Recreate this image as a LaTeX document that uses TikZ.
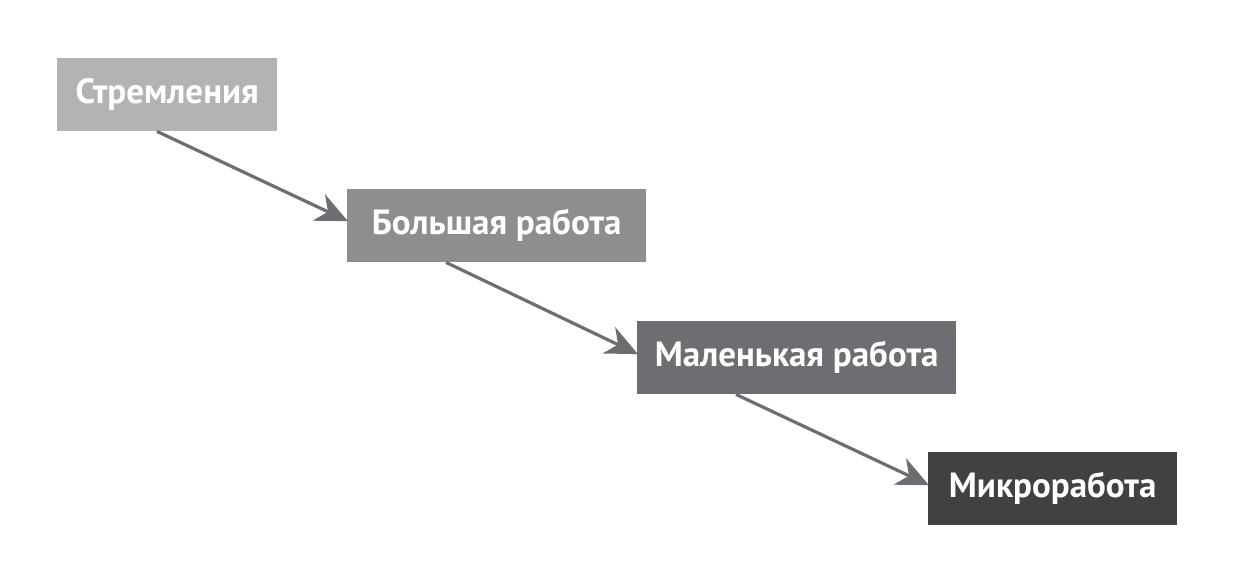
\documentclass[tikz,border=0pt]{standalone}
\usepackage{fontspec}
\setmainfont{PT Sans}
\usetikzlibrary{arrows.meta,calc}
\definecolor{c1}{HTML}{B3B3B5}
\definecolor{c2}{HTML}{8E8E91}
\definecolor{c3}{HTML}{6D6E71}
\definecolor{c4}{HTML}{414143}
\definecolor{arr}{HTML}{6D6E71}
\tikzset{
  box/.style={anchor=north west, minimum height=73pt, inner sep=0pt, text=white,
    font=\fontsize{35}{35}\selectfont\bfseries},
  link/.style={draw=arr, line width=3.2pt, -{Stealth[length=32pt,width=29pt,inset=10pt]}, shorten >=-1pt}
}
\begin{document}
\begin{tikzpicture}[x=1pt,y=-1pt]
\useasboundingbox (0,0) rectangle (1237,571);
\node[box, fill=c1, minimum width=220pt] (a) at (57,58) {Стремления};
\node[box, fill=c2, minimum width=299pt] (b) at (347,189) {Большая работа};
\node[box, fill=c3, minimum width=319pt] (c) at (637,321) {Маленькая работа};
\node[box, fill=c4, minimum width=249pt] (d) at (928,452) {Микроработа};
\draw[link] ($(a.south west)+(100,0)$) -- ($(b.west)+(0,-5)$);
\draw[link] ($(b.south west)+(99,0)$) -- ($(c.west)+(0,-4)$);
\draw[link] ($(c.south west)+(99,0)$) -- ($(d.west)+(0,-4)$);
\end{tikzpicture}
\end{document}
